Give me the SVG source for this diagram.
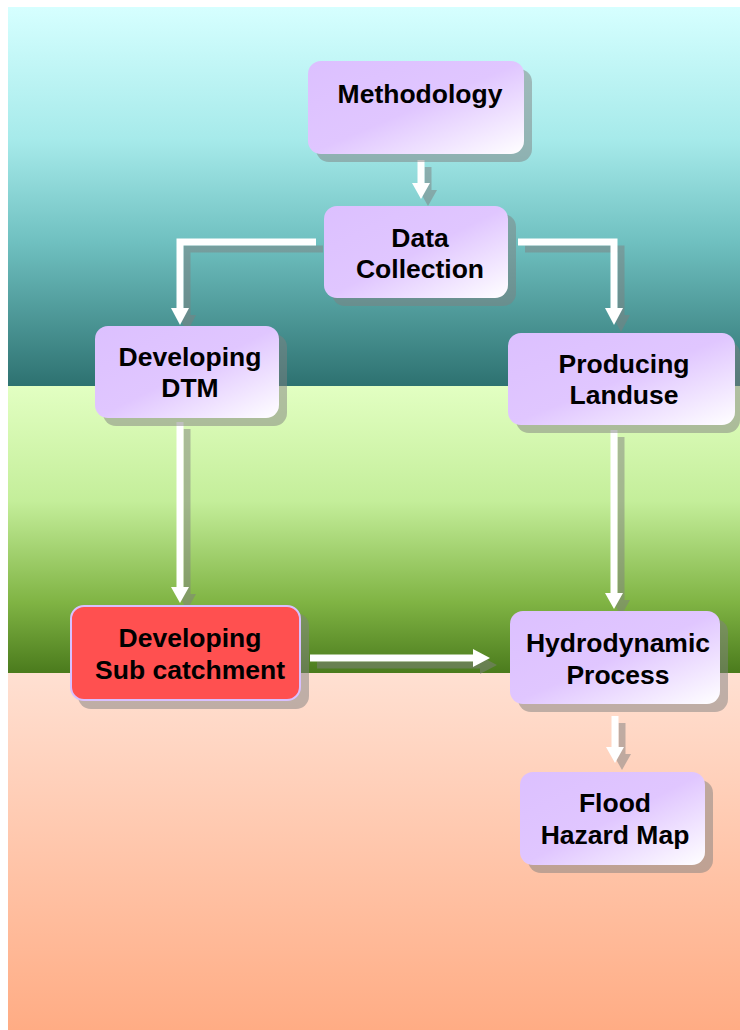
<svg xmlns="http://www.w3.org/2000/svg" width="740" height="1030" viewBox="0 0 740 1030">
<defs>
<linearGradient id="bg1" x1="0" y1="0" x2="0" y2="1">
<stop offset="0" stop-color="#d6ffff"/>
<stop offset="0.35" stop-color="#a6eaea"/>
<stop offset="0.62" stop-color="#6fc0c0"/>
<stop offset="1" stop-color="#2d7170"/>
</linearGradient>
<linearGradient id="bg2" x1="0" y1="0" x2="0" y2="1">
<stop offset="0" stop-color="#e2ffc2"/>
<stop offset="0.4" stop-color="#c4ee9a"/>
<stop offset="0.75" stop-color="#80b444"/>
<stop offset="1" stop-color="#4a7a1c"/>
</linearGradient>
<linearGradient id="bg3" x1="0" y1="0" x2="0" y2="1">
<stop offset="0" stop-color="#ffe0d2"/>
<stop offset="1" stop-color="#ffac84"/>
</linearGradient>
<linearGradient id="nodefill" x1="0" y1="0" x2="1" y2="1">
<stop offset="0" stop-color="#dcc0ff"/>
<stop offset="0.5" stop-color="#e0c6ff"/>
<stop offset="1" stop-color="#ffffff"/>
</linearGradient>
<style>
.box{fill:url(#nodefill);}
.red{fill:#ff5050;stroke:#d8c0ff;stroke-width:2;}
.shadow{fill:#808080;opacity:0.5;}
.lbl{font-family:"Liberation Sans",Arial,sans-serif;font-weight:bold;font-size:26.5px;fill:#000;text-anchor:middle;}
.ln{fill:none;stroke:#ffffff;stroke-width:7;}
.hd{fill:#ffffff;}
.sh .ln{stroke:#808080;}
.sh .hd{fill:#808080;}
.sh{opacity:0.5;}
</style>
</defs>
<rect x="8" y="7" width="732" height="380" fill="url(#bg1)"/>
<rect x="8" y="386" width="732" height="288" fill="url(#bg2)"/>
<rect x="8" y="673" width="732" height="357" fill="url(#bg3)"/>

<g id="connectors">
<g id="c1"><g class="sh" transform="translate(7,7)"><path class="ln" d="M421,160 V185"/><polygon class="hd" points="412,183 430,183 421,199"/></g><path class="ln" d="M421,160 V185"/><polygon class="hd" points="412,183 430,183 421,199"/></g>
<g id="c2"><g class="sh" transform="translate(7,7)"><path class="ln" d="M316,242 H180 V310"/><polygon class="hd" points="171,308 189,308 180,325"/></g><path class="ln" d="M316,242 H180 V310"/><polygon class="hd" points="171,308 189,308 180,325"/></g>
<g id="c3"><g class="sh" transform="translate(7,7)"><path class="ln" d="M518,242 H614 V310"/><polygon class="hd" points="605,308 623,308 614,325"/></g><path class="ln" d="M518,242 H614 V310"/><polygon class="hd" points="605,308 623,308 614,325"/></g>
<g id="c4"><g class="sh" transform="translate(7,7)"><path class="ln" d="M180,422 V589"/><polygon class="hd" points="171,587 189,587 180,603"/></g><path class="ln" d="M180,422 V589"/><polygon class="hd" points="171,587 189,587 180,603"/></g>
<g id="c5"><g class="sh" transform="translate(7,7)"><path class="ln" d="M614,430 V595"/><polygon class="hd" points="605,593 623,593 614,609"/></g><path class="ln" d="M614,430 V595"/><polygon class="hd" points="605,593 623,593 614,609"/></g>
<g id="c6"><g class="sh" transform="translate(7,7)"><path class="ln" d="M310,658 H475"/><polygon class="hd" points="473,649 473,667 490,658"/></g><path class="ln" d="M310,658 H475"/><polygon class="hd" points="473,649 473,667 490,658"/></g>
<g id="c7"><g class="sh" transform="translate(7,7)"><path class="ln" d="M615,716 V749"/><polygon class="hd" points="606,747 624,747 615,763"/></g><path class="ln" d="M615,716 V749"/><polygon class="hd" points="606,747 624,747 615,763"/></g>
</g>

<g id="methodology">
<rect class="shadow" x="316" y="69" width="216" height="93" rx="13"/>
<rect class="box" x="308" y="61" width="216" height="93" rx="13"/>
<text class="lbl" x="420" y="103">Methodology</text>
</g>
<g id="data-collection">
<rect class="shadow" x="332" y="214" width="184" height="92" rx="13"/>
<rect class="box" x="324" y="206" width="184" height="92" rx="13"/>
<text class="lbl" x="420" y="247">Data</text>
<text class="lbl" x="420" y="278">Collection</text>
</g>
<g id="developing-dtm">
<rect class="shadow" x="103" y="334" width="184" height="92" rx="13"/>
<rect class="box" x="95" y="326" width="184" height="92" rx="13"/>
<text class="lbl" x="190" y="366">Developing</text>
<text class="lbl" x="190" y="397">DTM</text>
</g>
<g id="producing-landuse">
<rect class="shadow" x="516" y="341" width="224" height="92" rx="13"/>
<rect class="box" x="508" y="333" width="227" height="92" rx="13"/>
<text class="lbl" x="624" y="373">Producing</text>
<text class="lbl" x="624" y="404">Landuse</text>
</g>
<g id="developing-sub-catchment">
<rect class="shadow" x="78" y="613" width="231" height="96" rx="13"/>
<rect class="red" x="71" y="606" width="229" height="94" rx="13"/>
<text class="lbl" x="190" y="647">Developing</text>
<text class="lbl" x="190" y="679">Sub catchment</text>
</g>
<g id="hydrodynamic-process">
<rect class="shadow" x="518" y="619" width="210" height="93" rx="13"/>
<rect class="box" x="510" y="611" width="210" height="93" rx="13"/>
<text class="lbl" x="618" y="652">Hydrodynamic</text>
<text class="lbl" x="618" y="684">Process</text>
</g>
<g id="flood-hazard-map">
<rect class="shadow" x="528" y="780" width="185" height="93" rx="13"/>
<rect class="box" x="520" y="772" width="185" height="93" rx="13"/>
<text class="lbl" x="615" y="812">Flood</text>
<text class="lbl" x="615" y="844">Hazard Map</text>
</g>
</svg>
